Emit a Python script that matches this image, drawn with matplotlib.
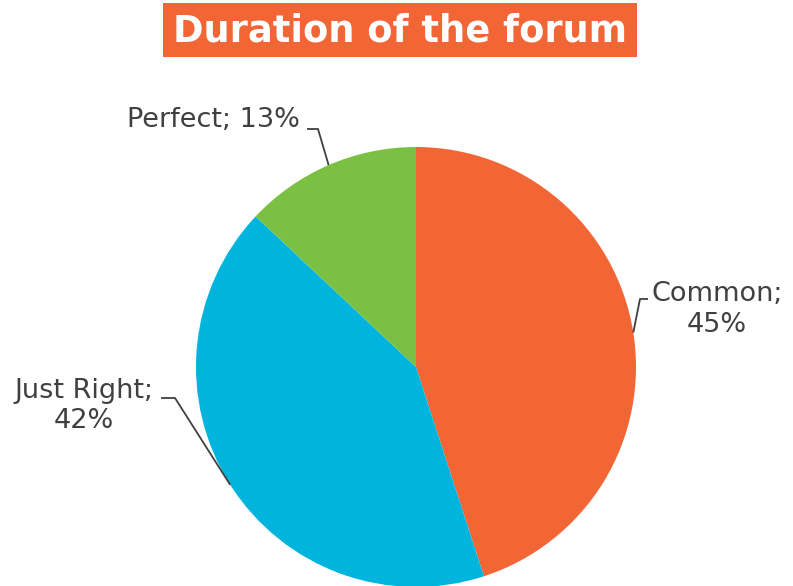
import matplotlib.pyplot as plt
import matplotlib.patches as mpatches
import numpy as np

plt.rcParams["font.family"] = ["DejaVu Sans"]

# data
categories = ["Common", "Just Right", "Perfect"]
shares = [45, 42, 13]
colors = ["#F26535", "#00B4DE", "#7AC143"]

W, H = 793, 586
fig = plt.figure(figsize=(W / 100, H / 100), dpi=100)
ax = fig.add_axes([0, 0, 1, 1])

cx, cy, r = 416, H - 367, 220
wedges, _ = ax.pie(shares, colors=colors, startangle=90, counterclock=False,
                   center=(cx, cy), radius=r, frame=True,
                   wedgeprops=dict(linewidth=0))
ax.set_xlim(0, W)
ax.set_ylim(0, H)
ax.axis("off")

# label layout: (elbow point, end of horizontal, text pos)
layout = {
    "Common": ((640, H - 299), (648, H - 299), (717, H - 309)),
    "Just Right": ((175, H - 398), (161, H - 398), (84, H - 406)),
    "Perfect": ((318, H - 129), (307, H - 129), (213, H - 120)),
}
text_col = "#404040"
for w, cat, val in zip(wedges, categories, shares):
    mid = np.deg2rad((w.theta1 + w.theta2) / 2)
    px = cx + r * np.cos(mid)
    py = cy + r * np.sin(mid)
    elbow, end, tpos = layout[cat]
    ax.plot([px, elbow[0], end[0]], [py, elbow[1], end[1]],
            color=text_col, lw=1.3, solid_capstyle="butt")
    if cat == "Perfect":
        label = f"{cat}; {val}%"
    else:
        label = f"{cat};\n{val}%"
    ax.text(tpos[0], tpos[1], label, ha="center", va="center", fontsize=19.5,
            color=text_col, linespacing=1.25)

# title with orange box
fig.patches.append(mpatches.Rectangle((163 / W, 1 - 57 / H), 474 / W, 54 / H,
                                      transform=fig.transFigure,
                                      facecolor="#F26535", edgecolor="none"))
fig.text(400 / W, 1 - 31 / H, "Duration of the forum", ha="center", va="center",
         fontsize=26.5, fontweight="bold", color="white")

fig.savefig("out.png", dpi=100)
